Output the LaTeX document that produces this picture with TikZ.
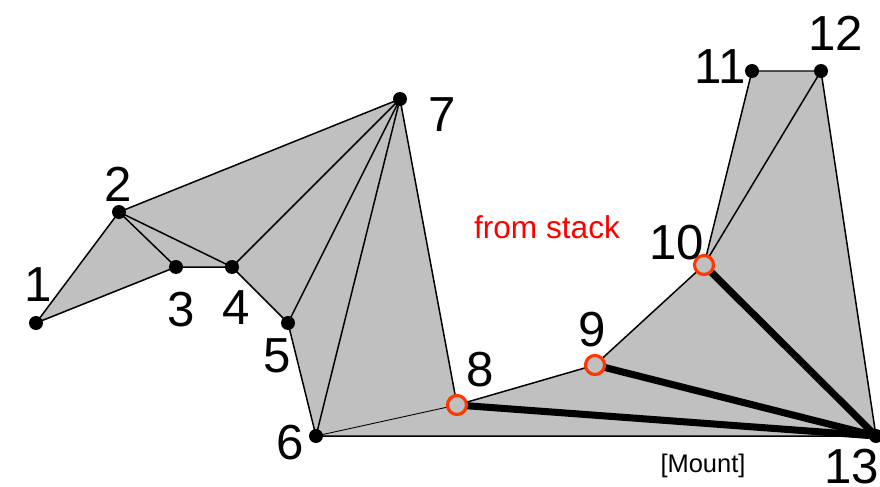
\documentclass[tikz,border=0pt]{standalone}
\usepackage{fontspec}
\setmainfont{Liberation Sans}
\definecolor{polygray}{RGB}{192,192,192}
\definecolor{stackred}{RGB}{255,55,0}
\tikzset{
  vtx/.style={circle,fill=black,inner sep=0pt,minimum size=0.28cm},
  stk/.style={circle,draw=stackred,line width=1.8pt,fill=polygray,inner sep=0pt,minimum size=0.38cm},
  lab/.style={font=\fontsize{28}{30}\selectfont,inner sep=0pt},
  diag/.style={line width=4pt}
}
\begin{document}
\begin{tikzpicture}[x=0.02cm,y=-0.02cm,line width=0.85pt]
  \useasboundingbox (0,0) rectangle (880,487);
  % vertices
  \coordinate (v1) at (36,323);
  \coordinate (v2) at (119,212);
  \coordinate (v3) at (176,267);
  \coordinate (v4) at (232,267);
  \coordinate (v5) at (288,323);
  \coordinate (v6) at (316,436);
  \coordinate (v7) at (400,99);
  \coordinate (v8) at (457,405);
  \coordinate (v9) at (595,365);
  \coordinate (v10) at (704,265);
  \coordinate (v11) at (752,71);
  \coordinate (v12) at (821,71);
  \coordinate (v13) at (876,436);

  % polygon
  \fill[polygray] (v1) -- (v2) -- (v7) -- (v8) -- (v9) -- (v10) -- (v11) -- (v12)
    -- (v13) -- (v6) -- (v5) -- (v4) -- (v3) -- cycle;
  \draw (v1) -- (v2) -- (v7) -- (v8) -- (v9) -- (v10) -- (v11) -- (v12)
    -- (v13) -- (v6) -- (v5) -- (v4) -- (v3) -- cycle;

  % diagonals
  \draw (v2) -- (v3);
  \draw (v2) -- (v4);
  \draw (v4) -- (v7);
  \draw (v5) -- (v7);
  \draw (v6) -- (v7);
  \draw (v10) -- (v12);
  \draw[line width=0.5pt] (v6) -- (v8);
  \draw[diag] (v8) -- (v13);
  \draw[diag] (v9) -- (v13);
  \draw[diag] (v10) -- (v13);

  % points
  \foreach \i in {1,...,7,11,12,13}
    \node[vtx] (p\i) at (v\i) {};
  \foreach \i in {8,9,10}
    \node[stk] (p\i) at (v\i) {};

  % labels
  \node[lab] (l1) at (38,285) {1};
  \node[lab] (l2) at (118,184) {2};
  \node[lab] (l3) at (181,310) {3};
  \node[lab] (l4) at (236,308) {4};
  \node[lab] (l5) at (277,356) {5};
  \node[lab] (l6) at (290,443) {6};
  \node[lab] (l7) at (442,115) {7};
  \node[lab] (l8) at (480,370) {8};
  \node[lab] (l9) at (592,330) {9};
  \node[lab] (l10) at (677,243) {10};
  \node[lab] (l11) at (720,67) {11};
  \node[lab] (l12) at (836,33) {12};
  \node[lab] (l13) at (852,467) {13};

  \node[text=red,font=\fontsize{18}{20}\selectfont] (stack) at (547,227) {from stack};
  \node[font=\fontsize{14.5}{16}\selectfont] (mount) at (703,466) {[Mount]};
\end{tikzpicture}
\end{document}
